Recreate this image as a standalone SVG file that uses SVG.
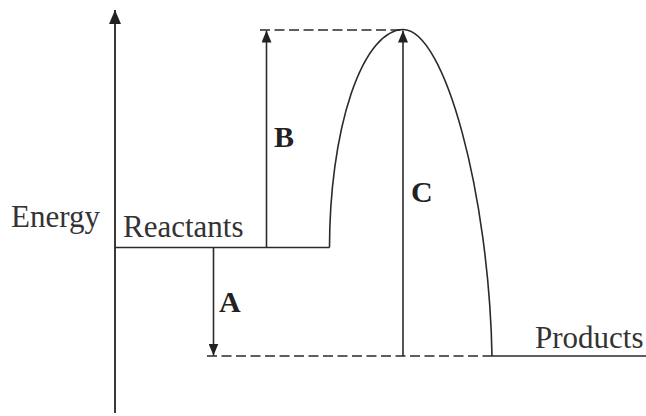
<svg xmlns="http://www.w3.org/2000/svg" width="646" height="416" viewBox="0 0 646 416">
  <style>
    .ln { stroke: #2a2a2a; stroke-width: 1.6; fill: none; }
    .ax { stroke: #3a3a3a; stroke-width: 2; fill: none; }
    .dash { stroke: #2a2a2a; stroke-width: 1.6; fill: none; stroke-dasharray: 10 4.5; }
    .txt { font-family: "Liberation Serif", "Times New Roman", serif; font-size: 31px; fill: #333; }
    .lbl { font-family: "Liberation Serif", "Times New Roman", serif; font-size: 30px; font-weight: bold; fill: #222; }
  </style>
  <defs>
    <marker id="ah" markerUnits="userSpaceOnUse" markerWidth="12" markerHeight="10" refX="12" refY="5" orient="auto">
      <path d="M0,0 L12,5 L0,10 z" fill="#222"/>
    </marker>
    <marker id="axh" markerUnits="userSpaceOnUse" markerWidth="14" markerHeight="12" refX="14" refY="6" orient="auto">
      <path d="M0,0 L14,6 L0,12 z" fill="#222"/>
    </marker>
  </defs>
  <rect width="646" height="416" fill="#fff"/>

  <g id="axis">
    <line class="ax" x1="115" y1="413" x2="115" y2="10" marker-end="url(#axh)"/>
    <text class="txt" x="11" y="227">Energy</text>
  </g>

  <g id="reactants">
    <line class="ln" x1="115" y1="247.5" x2="329.5" y2="247.5"/>
    <text class="txt" x="123" y="237">Reactants</text>
  </g>

  <g id="curve">
    <path class="ln" d="M329.5,247.5 A74 219 0 0 1 403,29.5 C445,29.5 489,195 492,356"/>
  </g>

  <g id="products">
    <line class="ln" x1="492" y1="356" x2="646" y2="356"/>
    <text class="txt" x="535" y="348">Products</text>
  </g>

  <g id="guides">
    <line class="dash" x1="260" y1="30" x2="400" y2="30"/>
    <line class="dash" x1="207" y1="356" x2="492" y2="356"/>
  </g>

  <g id="connectors">
    <line class="ln" x1="266.5" y1="247.5" x2="266.5" y2="30.5" marker-end="url(#ah)"/>
    <line class="ln" x1="403" y1="356" x2="403" y2="30.5" marker-end="url(#ah)"/>
    <line class="ln" x1="213.5" y1="247.5" x2="213.5" y2="355.5" marker-end="url(#ah)"/>
  </g>

  <g id="labels">
    <text class="lbl" x="219" y="312">A</text>
    <text class="lbl" x="274" y="147">B</text>
    <text class="lbl" x="411" y="202">C</text>
  </g>
</svg>
